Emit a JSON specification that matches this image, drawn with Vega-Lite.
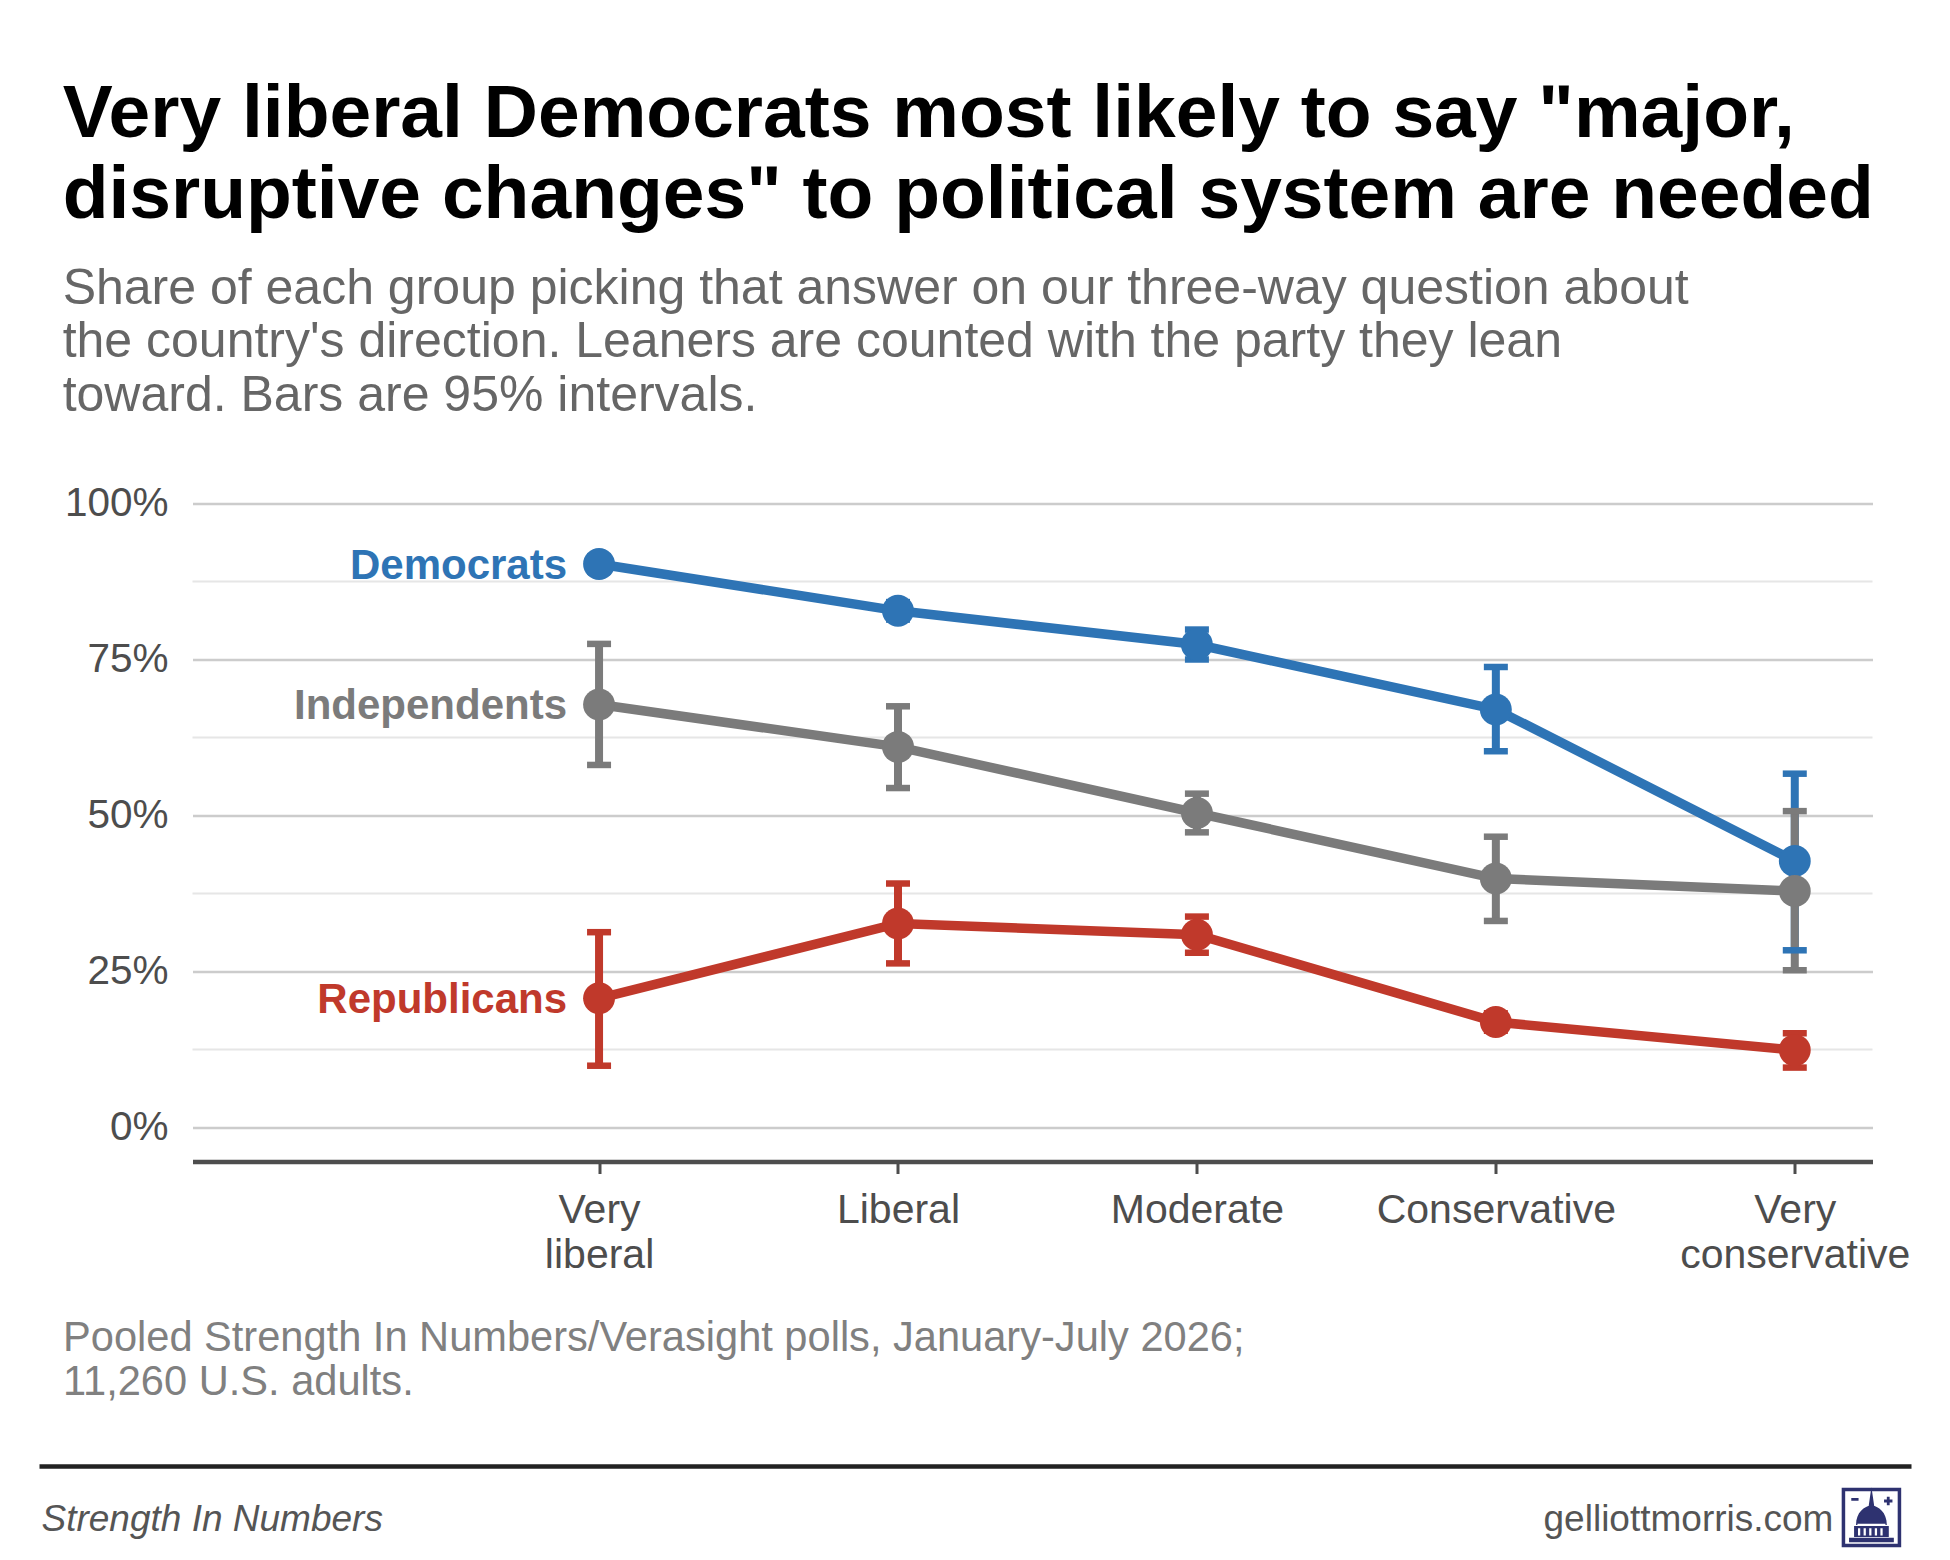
{
  "$schema": "https://vega.github.io/schema/vega-lite/v6.json",
  "background": "white",
  "padding": {"left": 36.5, "top": 76.5, "right": 10, "bottom": 10},
  "config": {
    "font": "Liberation Sans",
    "view": {"stroke": null},
    "concat": {"spacing": 60}
  },
  "title": {
    "text": ["Very liberal Democrats most likely to say \"major,", "disruptive changes\" to political system are needed"],
    "subtitle": ["Share of each group picking that answer on our three-way question about", "the country's direction. Leaners are counted with the party they lean", "toward. Bars are 95% intervals."],
    "anchor": "start",
    "frame": "bounds",
    "dx": 25.5,
    "fontSize": 75,
    "fontWeight": "bold",
    "color": "#000000",
    "lineHeight": 81,
    "subtitleFontSize": 50,
    "subtitleColor": "#666666",
    "subtitleLineHeight": 53.5,
    "subtitlePadding": 30,
    "offset": 62
  },
  "datasets": {
    "polls": [
      {"party": "Democrats", "ideology": "Very liberal", "pos": 1, "pct": 90.3, "lo": 89.1, "hi": 91.5},
      {"party": "Democrats", "ideology": "Liberal", "pos": 2, "pct": 82.8, "lo": 81.4, "hi": 84.2},
      {"party": "Democrats", "ideology": "Moderate", "pos": 3, "pct": 77.4, "lo": 75.0, "hi": 79.8},
      {"party": "Democrats", "ideology": "Conservative", "pos": 4, "pct": 67.0, "lo": 60.3, "hi": 73.8},
      {"party": "Democrats", "ideology": "Very conservative", "pos": 5, "pct": 42.7, "lo": 28.4, "hi": 56.7},
      {"party": "Independents", "ideology": "Very liberal", "pos": 1, "pct": 67.8, "lo": 58.1, "hi": 77.5},
      {"party": "Independents", "ideology": "Liberal", "pos": 2, "pct": 61.0, "lo": 54.4, "hi": 67.5},
      {"party": "Independents", "ideology": "Moderate", "pos": 3, "pct": 50.4, "lo": 47.3, "hi": 53.5},
      {"party": "Independents", "ideology": "Conservative", "pos": 4, "pct": 39.9, "lo": 33.1, "hi": 46.6},
      {"party": "Independents", "ideology": "Very conservative", "pos": 5, "pct": 37.9, "lo": 25.2, "hi": 50.7},
      {"party": "Republicans", "ideology": "Very liberal", "pos": 1, "pct": 20.7, "lo": 9.9, "hi": 31.3},
      {"party": "Republicans", "ideology": "Liberal", "pos": 2, "pct": 32.7, "lo": 26.3, "hi": 39.1},
      {"party": "Republicans", "ideology": "Moderate", "pos": 3, "pct": 30.9, "lo": 28.0, "hi": 33.8},
      {"party": "Republicans", "ideology": "Conservative", "pos": 4, "pct": 16.9, "lo": 15.5, "hi": 18.3},
      {"party": "Republicans", "ideology": "Very conservative", "pos": 5, "pct": 12.4, "lo": 9.6, "hi": 15.1}
    ],
    "minorGrid": [{"g": 12.5}, {"g": 37.5}, {"g": 62.5}, {"g": 87.5}],
    "footer": [{"brand": "Strength In Numbers", "site": "gelliottmorris.com"}]
  },
  "vconcat": [
    {
      "width": 1680,
      "height": 658,
      "layer": [
        {
          "data": {"name": "minorGrid"},
          "mark": {"type": "rule", "color": "#e6e6e6", "strokeWidth": 2},
          "encoding": {
            "y": {
              "field": "g",
              "type": "quantitative",
              "title": null,
              "scale": {"domain": [-5.45, 100], "nice": false, "zero": false},
              "axis": {
                "values": [0, 25, 50, 75, 100],
                "labelExpr": "datum.value + '%'",
                "grid": true,
                "gridColor": "#cccccc",
                "gridWidth": 2.7,
                "domain": false,
                "ticks": false,
                "labelFontSize": 40.5,
                "labelColor": "#4d4d4d",
                "labelPadding": 24.5,
                "title": null
              }
            }
          }
        },
        {
          "data": {"name": "polls"},
          "layer": [
            {
              "mark": {"type": "line", "strokeWidth": 9.5},
              "encoding": {
                "x": {
                  "field": "pos",
                  "type": "quantitative",
                  "scale": {"domain": [-0.36, 5.26], "nice": false, "zero": false},
                  "axis": {
                    "values": [1, 2, 3, 4, 5],
                    "labelExpr": "datum.value == 1 ? ['Very', 'liberal'] : datum.value == 2 ? 'Liberal' : datum.value == 3 ? 'Moderate' : datum.value == 4 ? 'Conservative' : ['Very', 'conservative']",
                    "grid": false,
                    "domainColor": "#4d4d4d",
                    "domainWidth": 4.3,
                    "tickColor": "#4d4d4d",
                    "tickWidth": 3,
                    "tickSize": 12,
                    "labelFontSize": 41,
                    "labelColor": "#4d4d4d",
                    "labelPadding": 16.5,
                    "labelLineHeight": 45,
                    "labelLimit": 0,
                    "labelFlush": false,
                    "labelOverlap": false,
                    "labelBound": false,
                    "title": ["Pooled Strength In Numbers/Verasight polls, January-July 2026;", "11,260 U.S. adults."],
                    "titleFontSize": 41.6,
                    "titleFontWeight": "normal",
                    "titleColor": "#808080",
                    "titleX": -130,
                    "titleY": 189,
                    "titleAlign": "left",
                    "titleBaseline": "alphabetic",
                    "titleLineHeight": 44,
                    "titleLimit": 0
                  }
                },
                "y": {"field": "pct", "type": "quantitative", "title": null},
                "color": {
                  "field": "party",
                  "type": "nominal",
                  "scale": {"domain": ["Democrats", "Independents", "Republicans"], "range": ["#2e74b5", "#7b7b7b", "#c0392b"]},
                  "legend": null
                },
                "detail": {"field": "party"}
              }
            },
            {
              "mark": {"type": "rule", "strokeWidth": 8},
              "encoding": {
                "x": {"field": "pos", "type": "quantitative"},
                "y": {"field": "lo", "type": "quantitative", "title": null},
                "y2": {"field": "hi"},
                "color": {"field": "party", "type": "nominal", "legend": null}
              }
            },
            {
              "mark": {"type": "tick", "orient": "horizontal", "size": 24, "thickness": 6.5, "opacity": 1},
              "encoding": {
                "x": {"field": "pos", "type": "quantitative"},
                "y": {"field": "lo", "type": "quantitative", "title": null},
                "color": {"field": "party", "type": "nominal", "legend": null}
              }
            },
            {
              "mark": {"type": "tick", "orient": "horizontal", "size": 24, "thickness": 6.5, "opacity": 1},
              "encoding": {
                "x": {"field": "pos", "type": "quantitative"},
                "y": {"field": "hi", "type": "quantitative", "title": null},
                "color": {"field": "party", "type": "nominal", "legend": null}
              }
            },
            {
              "mark": {"type": "circle", "size": 1018, "opacity": 1},
              "encoding": {
                "x": {"field": "pos", "type": "quantitative"},
                "y": {"field": "pct", "type": "quantitative", "title": null},
                "color": {"field": "party", "type": "nominal", "legend": null}
              }
            },
            {
              "transform": [{"filter": "datum.pos == 1"}],
              "mark": {"type": "text", "align": "right", "baseline": "middle", "dx": -32, "dy": 2, "fontSize": 42, "fontWeight": "bold"},
              "encoding": {
                "x": {"field": "pos", "type": "quantitative"},
                "y": {"field": "pct", "type": "quantitative", "title": null},
                "text": {"field": "party"},
                "color": {"field": "party", "type": "nominal", "legend": null}
              }
            }
          ]
        }
      ]
    },
    {
      "width": 1680,
      "height": 64,
      "data": {"name": "footer"},
      "layer": [
        {
          "mark": {"type": "rule", "color": "#222222", "strokeWidth": 4.7},
          "encoding": {
            "x": {"datum": 0, "type": "quantitative", "scale": {"domain": [0, 1], "range": [-153, 1719], "nice": false, "zero": false}, "axis": null},
            "x2": {"datum": 1},
            "y": {"datum": 1, "type": "quantitative", "scale": {"domain": [0, 1], "nice": false, "zero": false}, "axis": null}
          }
        },
        {
          "mark": {"type": "text", "align": "left", "baseline": "alphabetic", "fontSize": 37, "fontStyle": "italic", "color": "#555555", "dx": 2},
          "encoding": {
            "x": {"datum": 0, "type": "quantitative"},
            "y": {"datum": 0, "type": "quantitative"},
            "text": {"field": "brand"}
          }
        },
        {
          "mark": {"type": "text", "align": "right", "baseline": "alphabetic", "fontSize": 37, "color": "#555555"},
          "encoding": {
            "x": {"datum": 0.9583, "type": "quantitative"},
            "y": {"datum": 0, "type": "quantitative"},
            "text": {"field": "site"}
          }
        },
        {
          "mark": {"type": "point", "shape": "M-1,-1H1V1H-1Z", "size": 3136, "filled": false, "stroke": "#2e3270", "strokeWidth": 3.5, "opacity": 1},
          "encoding": {
            "x": {"datum": 0.9786, "type": "quantitative"},
            "y": {"datum": 0.203, "type": "quantitative"}
          }
        },
        {
          "mark": {"type": "point", "shape": "M-0.8,0.88L0.8,0.88L0.8,0.72L-0.8,0.72Z M-0.62,0.7L0.62,0.7L0.62,0.3L-0.62,0.3Z M-0.55,0.27C-0.55,-0.2,-0.25,-0.4,0,-0.45C0.25,-0.4,0.55,-0.2,0.55,0.27Z M-0.1,-0.4L-0.05,-0.75L0,-1.08L0.05,-0.75L0.1,-0.4Z M-0.72,-0.7H-0.46V-0.6H-0.72Z M0.55,-0.74H0.65V-0.64H0.75V-0.54H0.65V-0.44H0.55V-0.54H0.45V-0.64H0.55Z", "size": 3136, "filled": true, "fill": "#2e3270", "strokeWidth": 0, "opacity": 1},
          "encoding": {
            "x": {"datum": 0.9786, "type": "quantitative"},
            "y": {"datum": 0.203, "type": "quantitative"}
          }
        },
        {
          "mark": {"type": "point", "shape": "M-0.48,0.38H-0.4V0.64H-0.48Z M-0.28,0.38H-0.2V0.64H-0.28Z M-0.08,0.38H0V0.64H-0.08Z M0.12,0.38H0.2V0.64H0.12Z M0.32,0.38H0.4V0.64H0.32Z M-0.5,0.22H0.5V0.28H-0.5Z", "size": 3136, "filled": true, "fill": "#ffffff", "strokeWidth": 0, "opacity": 1},
          "encoding": {
            "x": {"datum": 0.9786, "type": "quantitative"},
            "y": {"datum": 0.203, "type": "quantitative"}
          }
        }
      ]
    }
  ]
}
